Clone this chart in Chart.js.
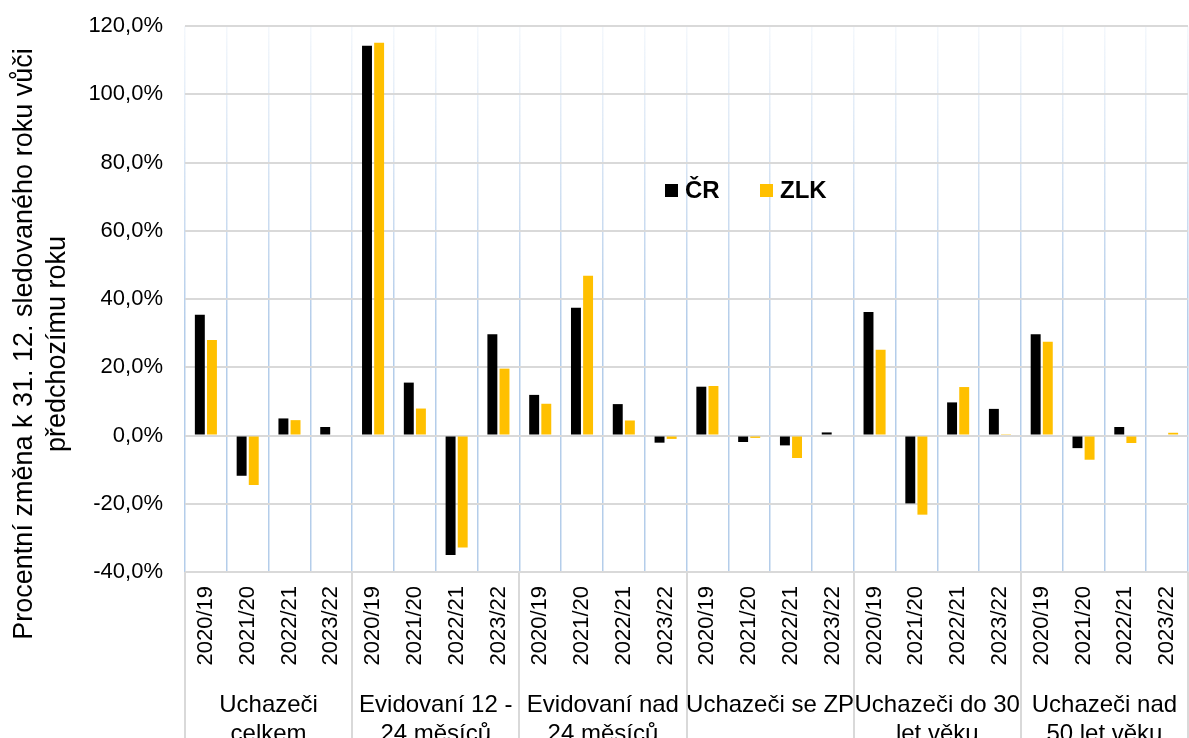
<!DOCTYPE html>
<html>
<head>
<meta charset="utf-8">
<script src="https://cdn.jsdelivr.net/npm/chart.js@4"></script>
<style>
  html, body { margin: 0; padding: 0; background: #fff; }
  #wrap { width: 1189px; height: 738px; }
</style>
</head>
<body>
<div id="wrap"><canvas id="chart" width="1189" height="738"></canvas></div>
<script>
const FONT = "Arial, 'Liberation Sans', sans-serif";

// ==============================
// DATA
// ==============================
const GROUPS = [
  ["Uchazeči", "celkem"],
  ["Evidovaní 12 -", "24 měsíců"],
  ["Evidovaní nad", "24 měsíců"],
  ["Uchazeči se ZP"],
  ["Uchazeči do 30", "let věku"],
  ["Uchazeči nad", "50 let věku"]
];
const YEARS = ["2020/19", "2021/20", "2022/21", "2023/22"];

const CR = [
  35.4, -11.8, 5.0, 2.5,
  114.2, 15.5, -35.0, 29.7,
  11.9, 37.4, 9.2, -2.1,
  14.3, -1.9, -2.9, 0.9,
  36.2, -19.9, 9.7, 7.8,
  29.7, -3.7, 2.5, 0.0
];
const ZLK = [
  28.0, -14.5, 4.5, 0.0,
  115.1, 7.9, -32.8, 19.6,
  9.3, 46.8, 4.4, -1.0,
  14.5, -0.7, -6.6, 0.0,
  25.1, -23.2, 14.2, 0.4,
  27.5, -7.1, -2.2, 0.8
];

const Y_TITLE = ["Procentní změna k 31. 12. sledovaného roku vůči", "předchozímu roku"];

const labels = GROUPS.flatMap(() => YEARS);

// ==============================
// GRID GRADIENT (vertical lines)
// ==============================
let gridGradient = null;
let gradientKey = "";
function verticalGridColor(context) {
  const chart = context.chart;
  const area = chart.chartArea;
  if (!area) return "#bdd7ee";
  const key = area.top + "-" + area.bottom;
  if (!gridGradient || gradientKey !== key) {
    const g = chart.ctx.createLinearGradient(0, area.top, 0, area.bottom);
    g.addColorStop(0, "rgba(180,205,234,0.15)");
    g.addColorStop(0.55, "rgba(180,205,234,1)");
    g.addColorStop(1, "rgba(180,205,234,1)");
    gridGradient = g;
    gradientKey = key;
  }
  return gridGradient;
}

// ==============================
// EXTRAS: title, group labels, legend
// ==============================
const extrasPlugin = {
  id: "extras",
  afterDraw(chart) {
    const ctx = chart.ctx;
    const x = chart.scales.x;
    const area = chart.chartArea;
    const half = (x.getPixelForValue(1) - x.getPixelForValue(0)) / 2;

    ctx.save();

    // group separators below the plot
    ctx.strokeStyle = "#d9d9d9";
    ctx.lineWidth = 2;
    for (let g = 0; g <= GROUPS.length; g++) {
      const px = Math.round(x.getPixelForValue(g * YEARS.length) - half);
      ctx.beginPath();
      ctx.moveTo(px, area.bottom);
      ctx.lineTo(px, chart.height);
      ctx.stroke();
    }

    // group labels
    ctx.fillStyle = "#000";
    ctx.font = "24px " + FONT;
    ctx.textAlign = "center";
    ctx.textBaseline = "alphabetic";
    GROUPS.forEach((lines, g) => {
      const first = x.getPixelForValue(g * YEARS.length);
      const last = x.getPixelForValue((g + 1) * YEARS.length - 1);
      const cx = (first + last) / 2;
      lines.forEach((t, i) => ctx.fillText(t, cx, 712 + i * 29));
    });

    // y-axis title
    ctx.font = "27px " + FONT;
    const cy = 344;
    Y_TITLE.forEach((t, i) => {
      ctx.save();
      ctx.translate(32 + i * 33, cy);
      ctx.rotate(-Math.PI / 2);
      ctx.fillText(t, 0, 0);
      ctx.restore();
    });

    // legend inside plot
    ctx.font = "bold 24px " + FONT;
    ctx.textAlign = "left";
    ctx.textBaseline = "middle";
    const legendX = [665, 760];
    chart.data.datasets.forEach((ds, i) => {
      ctx.fillStyle = ds.backgroundColor;
      ctx.fillRect(legendX[i], 184, 13, 13);
      ctx.fillStyle = "#000";
      ctx.fillText(ds.label, legendX[i] + 20, 191);
    });

    ctx.restore();
  }
};

// ==============================
// CHART
// ==============================
new Chart(document.getElementById("chart").getContext("2d"), {
  type: "bar",
  data: {
    labels: labels,
    datasets: [
      { label: "ČR", data: CR, backgroundColor: "#000000" },
      { label: "ZLK", data: ZLK, backgroundColor: "#ffc000" }
    ]
  },
  options: {
    responsive: false,
    animation: false,
    devicePixelRatio: 1,
    layout: { padding: { top: 26, right: 1, left: 0, bottom: 0 } },
    datasets: {
      bar: { categoryPercentage: 0.58, barPercentage: 0.82, borderWidth: 0 }
    },
    plugins: {
      legend: { display: false },
      tooltip: { enabled: false }
    },
    scales: {
      x: {
        offset: true,
        grid: {
          offset: true,
          drawTicks: false,
          color: verticalGridColor,
          lineWidth: 1.5
        },
        border: { display: false },
        ticks: {
          autoSkip: false,
          minRotation: 90,
          maxRotation: 90,
          padding: 14,
          color: "#000",
          font: { family: FONT, size: 22 }
        },
        afterFit(scale) {
          scale.height = 166;
          scale.paddingLeft = 0;
          scale.paddingRight = 0;
        }
      },
      y: {
        min: -40,
        max: 120,
        ticks: {
          stepSize: 20,
          padding: 22,
          color: "#000",
          font: { family: FONT, size: 22 },
          callback: v => v.toFixed(1).replace(".", ",") + "%"
        },
        grid: { color: "#d9d9d9", lineWidth: 2, drawTicks: false },
        border: { display: false },
        afterFit(scale) {
          scale.width = 185;
          scale.paddingTop = 0;
          scale.paddingBottom = 0;
        }
      }
    }
  },
  plugins: [extrasPlugin]
});
</script>
</body>
</html>
